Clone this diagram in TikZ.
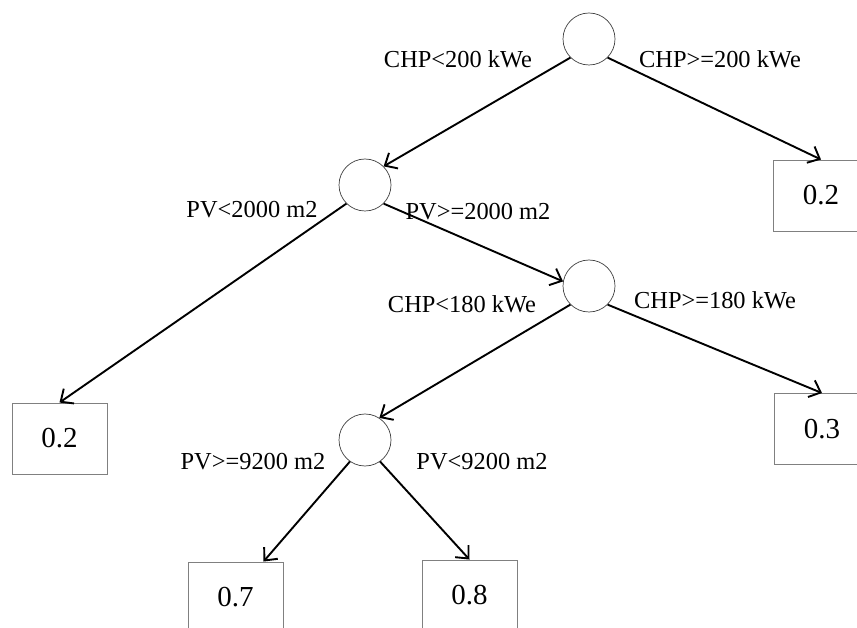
\documentclass[tikz,border=0pt]{standalone}
\usepackage{fontspec}
\setmainfont{Liberation Serif}
\usetikzlibrary{arrows.meta,calc}
\tikzset{
  split/.style={circle, draw=black!75, line width=0.7pt, minimum size=52pt, inner sep=0pt},
  leaf/.style={rectangle, draw=black!50, line width=0.9pt, minimum width=95pt, minimum height=71pt, inner sep=0pt, font=\fontsize{29}{32}\selectfont},
  lab/.style={inner sep=0pt, font=\fontsize{24.4}{28}\selectfont},
  edge/.style={line width=1.9pt, -{Straight Barb[length=10pt,width=18pt,line width=1.9pt]}}
}
\begin{document}
\begin{tikzpicture}[x=1pt,y=-1pt]
\useasboundingbox (0,0) rectangle (857,628);
\clip (0,0) rectangle (857,628);
% split nodes
\node[split] (root) at (589,39) {};
\node[split] (n2) at (365,185) {};
\node[split] (n3) at (589,286) {};
\node[split] (n4) at (365,440) {};
% leaves
\node[leaf] (b1) at (821,195.5) {0.2};
\node[leaf] (b2) at (59.5,438.5) {0.2};
\node[leaf] (b3) at (822,429) {0.3};
\node[leaf] (b4) at (235.5,597.5) {0.7};
\node[leaf] (b5) at (469.5,595.5) {0.8};
% edges
\draw[edge] (root.225) -- (n2.45);
\draw[edge] (root.-45) -- (b1.north);
\draw[edge] (n2.225) -- (b2.north);
\draw[edge] (n2.-45) -- (n3.170);
\draw[edge] (n3.225) -- (n4.57);
\draw[edge] (n3.-45) -- (b3.north);
\draw[edge] (n4.235) -- ($(b4.north)+(28,0)$);
\draw[edge] (n4.-55) -- (b5.north);
% labels
\node[lab] (l1) at (458,59) {CHP<200 kWe};
\node[lab] (l2) at (720,59) {CHP>=200 kWe};
\node[lab] (l3) at (252,210) {PV<2000 m2};
\node[lab] (l4) at (478,212) {PV>=2000 m2};
\node[lab] (l5) at (462,304) {CHP<180 kWe};
\node[lab] (l6) at (715,300) {CHP>=180 kWe};
\node[lab] (l7) at (253,462) {PV>=9200 m2};
\node[lab] (l8) at (482,462) {PV<9200 m2};
\end{tikzpicture}
\end{document}
